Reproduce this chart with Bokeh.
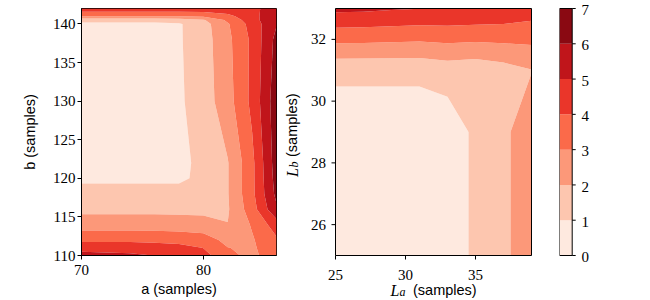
import numpy as np
from bokeh.plotting import figure
from bokeh.layouts import row
from bokeh.models import Range1d, FixedTicker
from bokeh.embed import file_html
from bokeh.resources import INLINE
from bokeh.core.properties import value

# ---------------- data ----------------
levels = [0, 1, 2, 3, 4, 5, 6, 7]
colors = ["#fee9df", "#fdc6af", "#fc9879", "#fb6a4a", "#ea362a", "#c0151b", "#8a0912"]

# left panel: a (samples) x b (samples)
a_vals = [70, 74, 76, 78, 80, 82, 84, 86]
b_vals = [110, 111, 112, 114, 116, 118, 120, 122, 130, 138, 140, 140.5, 141, 142]
z_ab = [
    [5.4, 5.2, 4.98, 4.8, 4.4, 3.2, 2.8, 3.5],        # 110
    [4.6, 4.55, 4.45, 4.3, 3.98, 3.02, 2.85, 3.65],   # 111
    [3.8, 3.8, 3.75, 3.7, 3.5, 2.7, 2.9, 3.85],       # 112
    [2.5, 2.5, 2.5, 2.45, 2.35, 2.02, 3.1, 4.5],      # 114
    [1.75, 1.75, 1.75, 1.75, 1.75, 1.9, 3.55, 5.85],  # 116
    [1.3, 1.3, 1.3, 1.3, 1.4, 1.95, 3.75, 6.25],      # 118
    [0.85, 0.85, 0.85, 0.85, 1.2, 1.95, 3.75, 6.4],   # 120
    [0.7, 0.7, 0.7, 0.7, 1.3, 1.95, 3.75, 6.5],       # 122
    [0.6, 0.6, 0.6, 0.85, 1.5, 2.6, 4.25, 6.6],       # 130
    [0.7, 0.7, 0.7, 0.9, 1.55, 2.75, 4.2, 6.3],       # 138
    [0.8, 0.8, 0.8, 0.9, 1.6, 2.9, 4.4, 5.95],        # 140
    [1.3, 1.3, 1.3, 1.45, 1.9, 3.2, 4.6, 5.9],        # 140.5
    [3.02, 3.02, 3.02, 3.05, 3.2, 3.7, 4.7, 5.7],     # 141
    [4.7, 4.7, 4.7, 4.7, 4.7, 4.75, 4.9, 5.2],        # 142
]
a_ticks = [70, 80]
b_ticks = [110, 115, 120, 125, 130, 135, 140]

# right panel: L_a (samples) x L_b (samples)
La_vals = [25, 27, 29, 31, 33, 35, 37, 39]
Lb_vals = [25, 27, 29, 31, 33]
z_L = [
    [0.3, 0.3, 0.3, 0.3, 0.4, 1.2, 1.8, 2.6],          # 25
    [0.3, 0.3, 0.3, 0.3, 0.4, 1.2, 1.8, 2.6],          # 27
    [0.3, 0.3, 0.3, 0.3, 0.4, 1.2, 1.8, 2.6],          # 29
    [1.25, 1.25, 1.25, 1.25, 1.45, 1.35, 1.6, 1.97],   # 31
    [5.25, 5.2, 5.1, 5.02, 4.98, 4.95, 4.8, 4.5],      # 33
]
La_range = (25, 39)
Lb_range = (25, 33)
La_ticks = [25, 30, 35]
Lb_ticks = [26, 28, 30, 32]

cbar_ticks = [0, 1, 2, 3, 4, 5, 6, 7]

# ---------------- styling / geometry ----------------
SERIF = "Liberation Serif"
SANS = "Liberation Sans"
TICK_SIZE = "15px"
LABEL_SIZE = "14.5px"
PAGE_H = 300
TOP = 8
FRAME_H = 247
P2_W = 256          # page width used by the right panel (incl. its labels)
P2_PAD_L = 55       # px from the right panel's left edge to its plot area
P2_FRAME_W = 196


def style(p):
    p.xgrid.visible = False
    p.ygrid.visible = False
    p.outline_line_color = "black"
    p.outline_line_width = 1
    p.axis.axis_line_color = "black"
    p.axis.major_tick_line_color = "black"
    p.axis.major_tick_in = 0
    p.axis.major_tick_out = 4
    p.axis.minor_tick_in = 0
    p.axis.minor_tick_out = 0
    p.axis.major_label_text_font = SERIF
    p.axis.major_label_text_font_size = TICK_SIZE
    p.axis.major_label_text_color = "black"
    p.axis.axis_label_text_font = SANS
    p.axis.axis_label_text_font_size = LABEL_SIZE
    p.axis.axis_label_text_font_style = "normal"
    p.axis.axis_label_text_color = "black"
    p.axis.major_label_standoff = 2
    p.background_fill_color = "white"
    p.border_fill_color = "white"


def txt(p, x, y, s, font, size, style_="normal", angle=0.0, align="left",
        baseline="alphabetic", xo=0, yo=0):
    p.text(x=x, y=y, text=s, angle=angle, x_offset=xo, y_offset=yo,
           text_font=value(font), text_font_style=style_, text_font_size=size,
           text_align=align, text_baseline=baseline, text_color="black")


# ---- left panel ----
p1 = figure(frame_width=195, frame_height=FRAME_H, title=None,
            x_range=Range1d(70, 86), y_range=Range1d(110, 142),
            min_border_left=81, min_border_right=4, min_border_top=TOP, min_border_bottom=45,
            output_backend="svg", toolbar_location=None)
p1.frame_align = False
c1 = p1.contour(x=a_vals, y=b_vals, z=np.array(z_ab), levels=levels, fill_color=colors)
c1.line_renderer.visible = False
style(p1)
p1.xaxis.ticker = FixedTicker(ticks=a_ticks)
p1.yaxis.ticker = FixedTicker(ticks=b_ticks)
p1.xaxis.major_label_standoff = 5
p1.xaxis.axis_label = "a (samples)"
p1.yaxis.axis_label = "b (samples)"
p1.xaxis.axis_label_standoff = 3
p1.yaxis.axis_label_standoff = 12

# ---- right panel: one bare frame covering plot + its axis decorations ----
ux = (La_range[1] - La_range[0]) / P2_FRAME_W      # data units per px
uy = (Lb_range[1] - Lb_range[0]) / FRAME_H
x_start = La_range[0] - P2_PAD_L * ux
x_end = x_start + P2_W * ux
y_end = Lb_range[1] + TOP * uy
y_start = y_end - PAGE_H * uy
p2 = figure(frame_width=P2_W, frame_height=PAGE_H, title=None,
            x_range=Range1d(x_start, x_end), y_range=Range1d(y_start, y_end),
            x_axis_location=None, y_axis_location=None,
            min_border_left=0, min_border_right=0, min_border_top=0, min_border_bottom=0,
            output_backend="svg", toolbar_location=None)
p2.frame_align = False
p2.xgrid.visible = False
p2.ygrid.visible = False
p2.outline_line_color = None
p2.background_fill_color = "white"
p2.border_fill_color = "white"
c2 = p2.contour(x=La_vals, y=Lb_vals, z=np.array(z_L), levels=levels, fill_color=colors)
c2.line_renderer.visible = False
# plot-area border
p2.quad(left=La_range[0], right=La_range[1], bottom=Lb_range[0], top=Lb_range[1],
        fill_color=None, line_color="black", line_width=1)
# ticks
p2.ray(x=[La_range[0]] * len(Lb_ticks), y=Lb_ticks, length=4, length_units="screen",
       angle=np.pi, line_color="black", line_width=1)
p2.ray(x=La_ticks, y=[Lb_range[0]] * len(La_ticks), length=4, length_units="screen",
       angle=-np.pi / 2, line_color="black", line_width=1)
# tick labels
txt(p2, [La_range[0]] * len(Lb_ticks), Lb_ticks, [str(t) for t in Lb_ticks],
    SERIF, TICK_SIZE, align="right", baseline="middle", xo=-9.5)
txt(p2, La_ticks, [Lb_range[0]] * len(La_ticks), [str(t) for t in La_ticks],
    SERIF, TICK_SIZE, align="center", yo=19.5)
# axis labels  L_a (samples), L_b (samples)
xc = (La_range[0] + La_range[1]) / 2
yc = (Lb_range[0] + Lb_range[1]) / 2
txt(p2, [xc], [Lb_range[0]], ["L"], SERIF, "16px", "italic", xo=-43, yo=34.5)
txt(p2, [xc], [Lb_range[0]], ["a"], SERIF, "12px", "italic", xo=-34, yo=36.8)
txt(p2, [xc], [Lb_range[0]], ["(samples)"], SANS, LABEL_SIZE, xo=-20.5, yo=34.5)
txt(p2, [La_range[0]], [yc], ["L"], SERIF, "16px", "italic", np.pi / 2, xo=-43.5, yo=45)
txt(p2, [La_range[0]], [yc], ["b"], SERIF, "12px", "italic", np.pi / 2, xo=-41.2, yo=35.5)
txt(p2, [La_range[0]], [yc], ["(samples)"], SANS, LABEL_SIZE, "normal", np.pi / 2,
    xo=-43.5, yo=25)

# ---- colorbar ----
CB_H = 272
unit = 7 / FRAME_H
p3 = figure(frame_width=41, frame_height=CB_H, title=None,
            x_range=Range1d(0, 41), y_range=Range1d(7 - (CB_H - TOP) * unit, 7 + TOP * unit),
            x_axis_location=None, y_axis_location=None,
            min_border_left=23, min_border_right=0, min_border_top=0, min_border_bottom=0,
            output_backend="svg", toolbar_location=None)
p3.frame_align = False
p3.xgrid.visible = False
p3.ygrid.visible = False
p3.outline_line_color = None
p3.quad(left=0, right=12.7, bottom=levels[:-1], top=levels[1:],
        fill_color=colors, line_color=None)
p3.quad(left=0, right=12.7, bottom=levels[0], top=levels[-1],
        fill_color=None, line_color="black", line_width=1)
p3.segment(x0=12.7, x1=16.2, y0=cbar_ticks, y1=cbar_ticks, line_color="black", line_width=1)
p3.text(x=22, y=cbar_ticks, text=[str(t) for t in cbar_ticks],
        text_font=value(SERIF), text_font_size=TICK_SIZE, text_baseline="middle",
        text_align="left", y_offset=1.7, text_color="black")

layout = row(p1, p2, p3)
open("out.html", "w").write(file_html(layout, INLINE))
